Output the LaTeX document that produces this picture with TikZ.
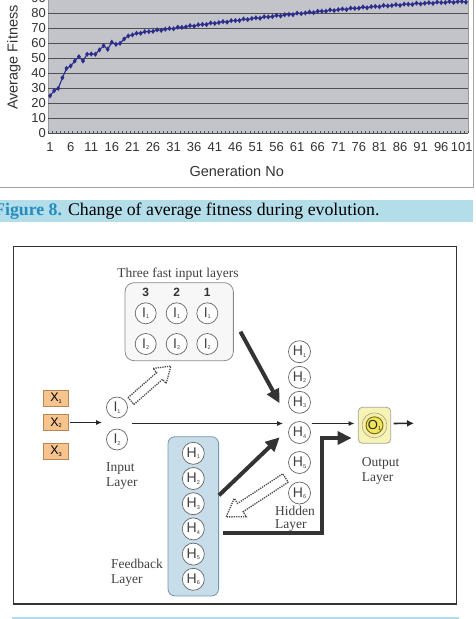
\documentclass[tikz,border=0pt]{standalone}
\usepackage{fontspec}
\setmainfont{Liberation Serif}
\setsansfont{Liberation Sans}
\usepackage{xcolor}
\usepackage{tikz}
\usetikzlibrary{arrows.meta, positioning, calc, plotmarks}

\definecolor{plotgray}{RGB}{194,196,201}
\definecolor{gridgray}{RGB}{80,80,80}
\definecolor{fitnavy}{RGB}{45,45,140}
\definecolor{capband}{RGB}{178,221,233}
\definecolor{capblue}{RGB}{38,140,190}
\definecolor{xorange}{RGB}{246,196,140}
\definecolor{xedge}{RGB}{185,135,85}
\definecolor{fbblue}{RGB}{199,221,233}
\definecolor{fbedge}{RGB}{120,150,170}
\definecolor{outyellow}{RGB}{246,243,180}
\definecolor{ringyellow}{RGB}{240,228,90}

% letter with a small lowered index, as in the circles
\newcommand{\neu}[2]{#1\raisebox{-1.5pt}{\fontsize{5.5}{6}\selectfont #2}}

\begin{document}
\begin{tikzpicture}[
  x=1pt, y=-1pt,
  neuron/.style={
    circle,
    draw=black!60,
    fill=white,
    line width=0.7pt,
    minimum size=21pt,
    inner sep=0pt,
    font=\sffamily\fontsize{14}{14}\selectfont,
    text=black!75
  },
  hneuron/.style={neuron, minimum size=22pt},
  inbox/.style={
    draw=xedge,
    fill=xorange,
    line width=0.6pt,
    minimum width=25pt,
    minimum height=16pt,
    inner sep=0pt,
    font=\sffamily\fontsize{12.5}{12.5}\selectfont
  },
  layerlabel/.style={
    font=\fontsize{13.5}{15}\selectfont,
    text=black!75,
    align=left,
    anchor=west,
    inner sep=0pt
  },
  collab/.style={font=\sffamily\bfseries\fontsize{12}{12}\selectfont, text=black!80, inner sep=0pt},
  thinarrow/.style={line width=1.2pt, draw=black!85, -{Latex[length=6pt,width=5pt]}},
  heavy/.style={line width=4pt, draw=black!80, -{Triangle[length=14pt,width=13pt]}},
  hollow/.style={densely dotted, line width=1.3pt, draw=black!70, fill=white},
  ylab/.style={font=\sffamily\fontsize{13}{13}\selectfont, text=black!80, anchor=east, inner sep=0pt},
  xlab/.style={font=\sffamily\fontsize{13}{13}\selectfont, text=black!80, anchor=base, inner sep=0pt}
]

\clip (0,0) rectangle (475,619);

% -------------------------------------------------------------------
% Fitness chart (cut at the top)
% -------------------------------------------------------------------
\draw[gray!70, line width=1.2pt] (-5,187.7) -- (473.5,187.7) -- (473.5,-5);
\fill[plotgray] (48,-5) rectangle (468,133.3);
\draw[gray!80] (48,-5) -- (48,133.3) (468,-5) -- (468,133.3);

\foreach \v in {0,10,...,90}{
  \draw[gridgray, line width=1pt] (48,{133.3-1.5*\v}) -- (468,{133.3-1.5*\v});
  \node[ylab] at (46,{133.3-1.5*\v}) {\v};
}
\foreach \k in {0,...,102}
  \draw[gridgray, line width=0.5pt] ({48+\k*4.1176},133.3) -- ++(0,-2.5);
\foreach \i in {1,6,...,101}
  \node[xlab] at ({48+(\i-0.5)*4.1176},151.5) {\i};

\node[font=\sffamily\fontsize{14.5}{14.5}\selectfont, text=black!80, rotate=90] (ytitle) at (14,57.5) {Average Fitness};
\node[font=\sffamily\fontsize{14.5}{14.5}\selectfont, text=black!80, anchor=base] (xtitle) at (236.7,176.5) {Generation No};

\begin{scope}[shift={(48pt,-133.3pt)}, x=4.1176pt, y=1.5pt]
  \draw[fitnavy, line width=1.1pt, mark size=1.7pt, mark options={fill=fitnavy, draw=fitnavy}]
    plot[mark=diamond*] coordinates {
      (0.5,25) (1.5,28.4) (2.5,30) (3.5,37) (4.5,43.3) (5.5,44.9)
      (6.5,48.2) (7.5,51.1) (8.5,48.2) (9.5,52.7) (10.5,52.9) (11.5,52.7)
      (12.5,55.6) (13.5,58.4) (14.5,56) (15.5,60.7) (16.5,59.3) (17.5,60)
      (18.5,62.9) (19.5,64.9) (20.5,65.6) (21.5,66.7)}
    -- plot[mark=diamond*, samples at={23,...,102}]
      ({\x-0.5},{87.8-21.1*((102.5-\x)/80.5)^1.45+0.4*sin(\x*137)});
\end{scope}

% -------------------------------------------------------------------
% Caption
% -------------------------------------------------------------------
\fill[capband] (-5,200.3) rectangle (473,221.7);
\node[anchor=base west, inner sep=0pt, font=\fontsize{17.8}{20}\selectfont] (caption) at (-6,215.5)
  {\textcolor{capblue}{\textbf{Figure 8.}} Change of average fitness during evolution.};
\fill[capband] (12,616.8) rectangle (459,619);

% -------------------------------------------------------------------
% Network frame
% -------------------------------------------------------------------
\draw[black!80, line width=1.1pt] (13.3,246.7) rectangle (456.7,604);

% Three fast input layers
\node[font=\fontsize{13.5}{15}\selectfont, text=black!75, anchor=base, inner sep=0pt] (fasttitle) at (178,277.3) {Three fast input layers};
\node[draw=black!45, fill=black!3, rounded corners=9pt, line width=0.8pt,
  minimum width=108.3pt, minimum height=78pt] (fast) at (179.2,321.7) {};

\node[collab] (c3) at (145.7,292) {3};
\node[collab] (c2) at (176.7,292) {2};
\node[collab] (c1) at (207.3,292) {1};

\node[neuron] (f3a) at (145.7,313.3) {\neu{I}{1}};
\node[neuron] (f2a) at (176.7,313.3) {\neu{I}{1}};
\node[neuron] (f1a) at (207.3,313.3) {\neu{I}{1}};
\node[neuron] (f3b) at (145.7,344) {\neu{I}{2}};
\node[neuron] (f2b) at (176.7,344) {\neu{I}{2}};
\node[neuron] (f1b) at (207.3,344) {\neu{I}{2}};

% Inputs
\node[inbox] (xone) at (56,398) {\neu{X}{1}};
\node[inbox] (xtwo) at (56,422.5) {\neu{X}{2}};
\node[inbox] (xthree) at (56,451) {\neu{X}{3}};

% Input layer
\node[neuron] (ione) at (117,407.5) {\neu{I}{1}};
\node[neuron] (itwo) at (117,439.5) {\neu{I}{2}};
\node[layerlabel] (inlabel) at (106,476.5) {Input\\Layer};
\coordinate (insum) at ($(ione.east)!0.5!(itwo.east)$);

% Hidden layer
\node[hneuron] (h1) at (299.5,351.7) {\neu{H}{1}};
\node[hneuron] (h2) at (299.5,377.3) {\neu{H}{2}};
\node[hneuron] (h3) at (299.5,402.3) {\neu{H}{3}};
\node[hneuron] (h4) at (299.5,432.5) {\neu{H}{4}};
\node[hneuron] (h5) at (299.5,462.5) {\neu{H}{5}};
\node[hneuron] (h6) at (299.5,493) {\neu{H}{6}};
\node[layerlabel, font=\fontsize{13.5}{13}\selectfont] (hidlabel) at (275,519) {Hidden\\Layer};

% Feedback layer
\node[draw=fbedge, fill=fbblue, rounded corners=7pt, line width=0.8pt,
  minimum width=50.6pt, minimum height=159.3pt] (feedbox) at (193.3,516.3) {};
\node[hneuron] (fh1) at (193.3,453.3) {\neu{H}{1}};
\node[hneuron] (fh2) at (193.3,478.5) {\neu{H}{2}};
\node[hneuron] (fh3) at (193.3,503.7) {\neu{H}{3}};
\node[hneuron] (fh4) at (193.3,528.9) {\neu{H}{4}};
\node[hneuron] (fh5) at (193.3,554.1) {\neu{H}{5}};
\node[hneuron] (fh6) at (193.3,579.3) {\neu{H}{6}};
\node[layerlabel] (fblabel) at (111,573) {Feedback\\Layer};

% Output layer
\node[draw=black!35, fill=outyellow, rounded corners=4pt, line width=0.8pt,
  minimum width=32.4pt, minimum height=36pt] (obox) at (374.5,425.3) {};
\node[circle, draw=black!45, fill=ringyellow!55, minimum size=25pt, inner sep=0pt] (oring) at (obox) {};
\node[neuron, draw=olive!70!black, line width=0.9pt, fill=ringyellow, minimum size=17pt,
  font=\sffamily\fontsize{13}{13}\selectfont, text=black!85] (oone) at (obox) {\neu{O}{1}};
\node[layerlabel] (outlabel) at (361.7,471) {Output\\Layer};
\coordinate (outend) at (414,423.3);

% -------------------------------------------------------------------
% Connectors
% -------------------------------------------------------------------
\draw[thinarrow, shorten >=4pt, shorten <=1.5pt] (xtwo.east) -- (xtwo.east -| ione.west);
\draw[thinarrow, shorten <=4pt, shorten >=5pt] (insum) -- (insum -| h4.west);
\draw[thinarrow, shorten <=1pt, shorten >=3.3pt] (insum -| h4.east) -- (insum -| obox.west);
\draw[thinarrow, line width=1.6pt, -{Latex[length=7pt,width=7pt]}, shorten <=2.5pt] (insum -| obox.east) -- (outend);

\draw[heavy] ([xshift=6.7pt, yshift=-10pt]fast.east) -- ([xshift=-8.5pt, yshift=-1pt]h3.west);
\draw[heavy] ([yshift=21pt]feedbox.east) -- ([xshift=-8.5pt, yshift=-4.8pt]h4.west);
\draw[heavy, line join=miter] ([xshift=4.4pt, yshift=-17pt]feedbox.east) -- ++(99,0)
  |- ([xshift=-6.3pt, yshift=-12.7pt]obox.west);

% dotted hollow arrows
\begin{scope}[shift={(131pt,-401pt)}, rotate=41.2]
  \draw[hollow] (0,-4.5) -- (38,-4.5) -- (38,-10) -- (53,0) -- (38,10) -- (38,4.5) -- (0,4.5) -- cycle;
\end{scope}
\begin{scope}[shift={(285.5pt,-478pt)}, rotate=213.2]
  \draw[hollow] (0,-5) -- (54,-5) -- (54,-11) -- (71,0) -- (54,11) -- (54,5) -- (0,5) -- cycle;
\end{scope}

\end{tikzpicture}
\end{document}
